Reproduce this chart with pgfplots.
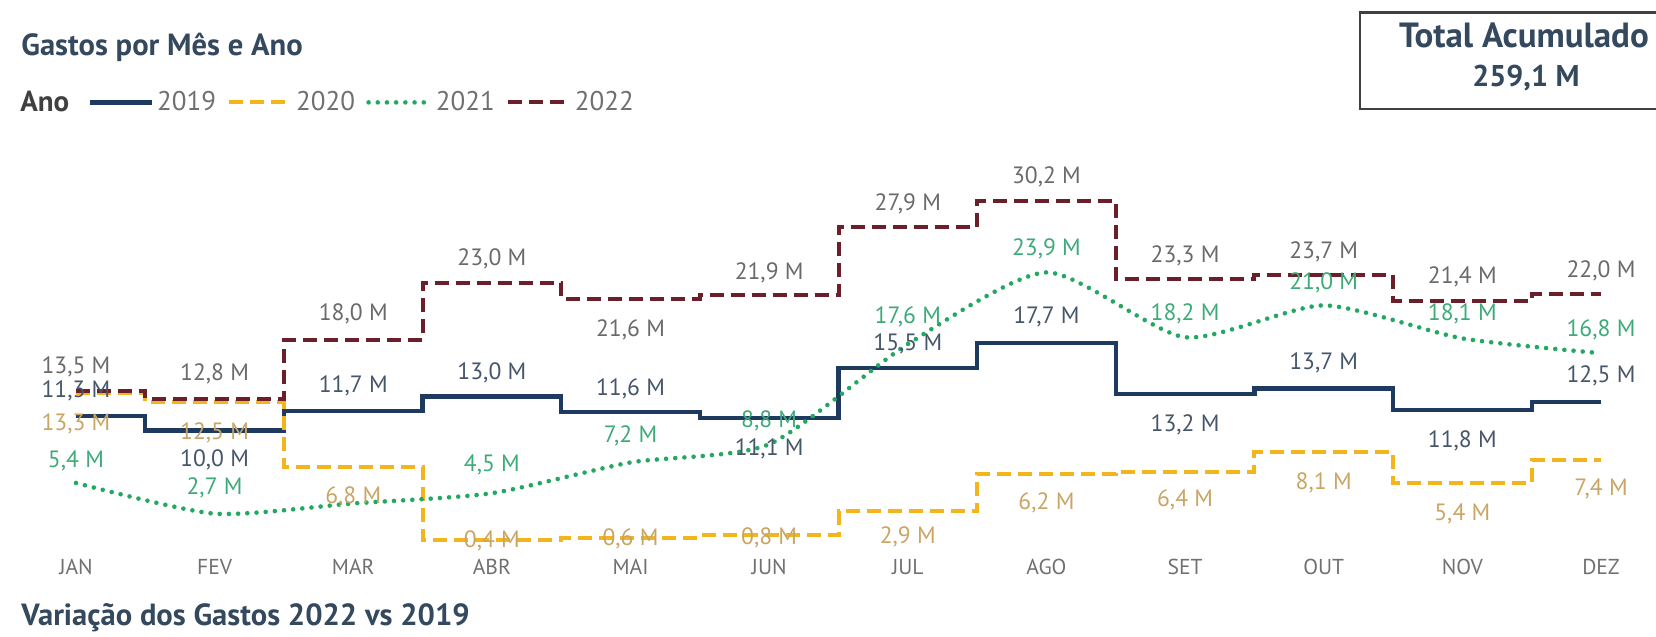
\documentclass[border=0pt]{standalone}
\usepackage{pgfplots}
\pgfplotsset{compat=1.18}
\usepackage{pgfplotstable}
\usepackage{fontspec}
\setmainfont{PT Sans}

\definecolor{c2019}{HTML}{1E3A5F}
\definecolor{c2020}{HTML}{F2B61C}
\definecolor{c2021}{HTML}{22A861}
\definecolor{c2022}{HTML}{6B1F2B}
\definecolor{l2019}{HTML}{46566A}
\definecolor{l2020}{HTML}{C9A564}
\definecolor{l2021}{HTML}{3DAA78}
\definecolor{l2022}{HTML}{6A6A6A}
\definecolor{titlec}{HTML}{34495E}
\definecolor{tickc}{HTML}{707070}

% x = month (0 = JAN), y = value in M, off = label shift in pt, vis = label shown
\pgfplotstableread{
x y off vis
0 11.3 12.7 1
1 10.0 -14.8 1
2 11.7 12.7 1
3 13.0 11.6 1
4 11.6 11.6 1
5 11.1 -15.3 1
6 15.5 12.1 1
7 17.7 13.2 1
8 13.2 -15.3 1
9 13.7 12.7 1
10 11.8 -15.3 1
11 12.5 13.2 1
}\dataA
\pgfplotstableread{
x y off vis
0 13.3 -15.3 1
1 12.5 -15.3 1
2 6.8 -14.8 1
3 0.4 -0.5 1
4 0.6 -0.5 1
5 0.8 -1.5 1
6 2.9 -12.7 1
7 6.2 -14.3 1
8 6.4 -14.3 1
9 8.1 -15.3 1
10 5.4 -15.3 1
11 7.4 -14.3 1
}\dataB
\pgfplotstableread{
x y off vis
0 5.4 11.1 1
1 2.7 12.7 1
2 3.6 12.0 0
3 4.5 14.3 1
4 7.2 13.2 1
5 8.8 11.6 1
6 17.6 13.7 1
7 23.9 11.6 1
8 18.2 11.6 1
9 21.0 11.1 1
10 18.1 12.1 1
11 16.8 11.6 1
}\dataC
\pgfplotstableread{
x y off vis
0 13.5 12.1 1
1 12.8 12.4 1
2 18.0 12.9 1
3 23.0 11.9 1
4 21.6 -15.8 1
5 21.9 11.3 1
6 27.9 11.5 1
7 30.2 12.1 1
8 23.3 11.6 1
9 23.7 11.6 1
10 21.4 12.1 1
11 22.0 11.6 1
}\dataD

\pgfplotsset{
  lbl/.style={
    visualization depends on={\thisrow{off}\as\off},
    visualization depends on={\thisrow{vis}\as\vis},
    nodes near coords={\ifdim\vis pt>0.5pt \pgfmathprintnumber[fixed,fixed zerofill,precision=1,use comma]{\pgfplotspointmeta}~M\fi},
    every node near coord/.append style={anchor=center,yshift=\off pt,font=\fontsize{11.8}{12}\selectfont,text=#1},
  },
}

\begin{document}
\begin{tikzpicture}
\path[use as bounding box] (0,0) rectangle (828pt,318.5pt);

\begin{axis}[
  at={(38pt,46.3pt)}, anchor=south west,
  scale only axis, width=762.5pt, height=182.1pt,
  xmin=0, xmax=11, ymin=0, ymax=32,
  clip=false,
  axis line style={draw=none},
  tick style={draw=none},
  ytick=\empty,
  xtick={0,...,11},
  xticklabels={JAN,FEV,MAR,ABR,MAI,JUN,JUL,AGO,SET,OUT,NOV,DEZ},
  xticklabel style={anchor=center,yshift=-11.3pt,font=\fontsize{10.8}{12}\selectfont,text=tickc},
  /pgf/number format/assume math mode=true,
  legend columns=-1,
  legend style={at={(-0.0361,1.2136)}, anchor=west, draw=none, fill=none,
    inner sep=0pt, font=\fontsize{13.5}{15}\selectfont, text=tickc,
    nodes={inner sep=1.5pt},
    /tikz/every even column/.append style={column sep=4.1pt},
    /tikz/every odd column/.append style={column sep=0pt}},
  legend image code/.code={\draw[#1] (0pt,0pt) -- (31pt,0pt);},
]
\addlegendimage{empty legend}
\addlegendentry{\makebox[26.2pt][l]{\hspace{-2pt}\textcolor{black!75}{\fontsize{14.5}{15}\selectfont\bfseries Ano}}}

\addplot[c2019, line width=2.1pt, const plot mark mid, lbl=l2019] table {\dataA};
\addlegendentry{2019}
\addplot[c2020, line width=2pt, dash pattern=on 7pt off 3.5pt, const plot mark mid, lbl=l2020] table {\dataB};
\addlegendentry{2020}
\addplot[c2021, line width=2.3pt, line cap=round, dash pattern=on 0pt off 4.6pt, smooth, tension=0.4, lbl=l2021] table {\dataC};
\addlegendentry{2021}
\addplot[c2022, line width=2pt, dash pattern=on 7pt off 3.5pt, const plot mark mid, lbl=l2022] table {\dataD};
\addlegendentry{2022}
\end{axis}

\node[anchor=west, inner sep=0pt, text=titlec, font=\bfseries\fontsize{15.3}{17}\selectfont] at (10.5pt,294.7pt) {Gastos por Mês e Ano};
\node[anchor=west, inner sep=0pt, text=titlec, font=\bfseries\fontsize{15.3}{17}\selectfont] at (10.5pt,9.6pt) {Variação dos Gastos 2022 vs 2019};

\draw[black!75, line width=1.1pt] (680pt,264.1pt) rectangle (832pt,312.2pt);
\node[text=titlec, font=\bfseries\fontsize{17.5}{19}\selectfont] at (762pt,301pt) {Total Acumulado};
\node[text=titlec, font=\bfseries\fontsize{15}{17}\selectfont] at (763pt,279.5pt) {259,1 M};
\end{tikzpicture}
\end{document}
